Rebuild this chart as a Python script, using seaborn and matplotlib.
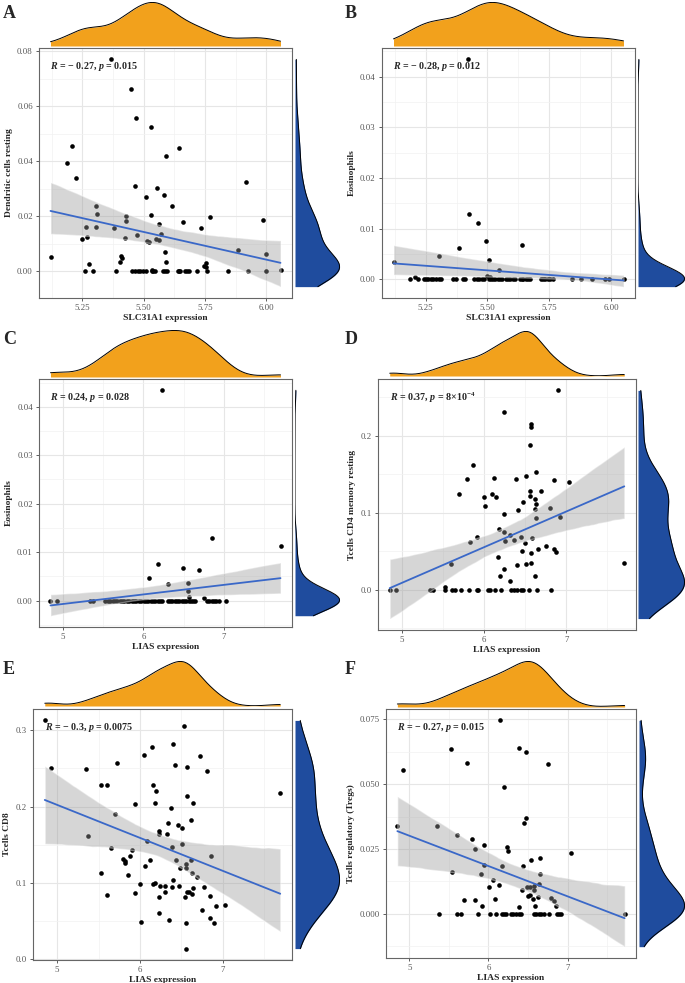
import numpy as np
import matplotlib
matplotlib.use("Agg")
import matplotlib.pyplot as plt
from matplotlib.ticker import AutoMinorLocator, MultipleLocator, FormatStrFormatter
from matplotlib.collections import PolyCollection
import seaborn as sns

# ---- data (x = gene expression, y = immune cell fraction) ----
# A: SLC31A1 vs Dendritic cells resting
a_x = [5.12, 5.366, 5.45, 5.468, 5.53, 5.646, 5.59, 5.208, 5.188, 5.222, 5.919, 5.465, 5.555,
       5.509, 5.582, 5.615, 5.307, 5.311, 5.426, 5.53, 5.772, 5.986, 5.659, 5.429, 5.561, 5.264,
       5.307, 5.381, 5.732, 5.57, 5.473, 5.269, 5.423, 5.247, 5.55, 5.562, 5.515, 5.52, 5.585,
       5.884, 5.999, 5.408, 5.412, 5.403, 5.277, 5.59, 5.753, 5.747, 5.754, 6.058, 5.534]
a_y = [0.0052, 0.077, 0.0663, 0.0558, 0.0526, 0.0447, 0.042, 0.0457, 0.0393, 0.034, 0.0326,
       0.031, 0.0304, 0.027, 0.0277, 0.0236, 0.0238, 0.021, 0.020, 0.0204, 0.0199, 0.0185, 0.018,
       0.0184, 0.0172, 0.0162, 0.016, 0.0156, 0.0156, 0.0136, 0.0131, 0.0126, 0.0121, 0.0116,
       0.0119, 0.0114, 0.0112, 0.0107, 0.0069, 0.0077, 0.0062, 0.0056, 0.0049, 0.0036, 0.0026,
       0.0033, 0.0031, 0.0019, 0.0016, 0.0007, 0.0006]
a_x0 = [5.259, 5.292, 5.388, 5.454, 5.466, 5.477, 5.486, 5.497, 5.508, 5.534, 5.539, 5.545, 5.58,
        5.588, 5.597, 5.638, 5.645, 5.65, 5.669, 5.678, 5.685, 5.719, 5.757, 5.845, 5.924, 6.0]

# B: SLC31A1 vs Eosinophils
b_x = [5.12, 5.422, 5.425, 5.462, 5.492, 5.384, 5.641, 5.304, 5.507, 5.548, 5.497, 5.512, 5.207]
b_y = [0.0034, 0.0434, 0.0128, 0.0112, 0.0076, 0.0062, 0.0068, 0.0046, 0.0038, 0.0018, 0.0007,
       0.0005, 0.0004]
b_x0 = [5.185, 5.219, 5.242, 5.251, 5.261, 5.27, 5.281, 5.292, 5.302, 5.312, 5.362, 5.374, 5.399,
        5.41, 5.446, 5.456, 5.466, 5.476, 5.485, 5.505, 5.516, 5.524, 5.532, 5.542, 5.551, 5.56,
        5.573, 5.583, 5.593, 5.602, 5.613, 5.63, 5.638, 5.645, 5.655, 5.664, 5.673, 5.715, 5.724,
        5.734, 5.743, 5.754, 5.765, 5.841, 5.88, 5.922, 5.977, 5.991, 6.05]

# C: LIAS vs Eosinophils
c_x = [6.235, 6.848, 7.7, 6.185, 6.486, 6.691, 6.074, 6.309, 6.556, 6.547, 6.56, 6.749]
c_y = [0.0434, 0.0129, 0.0112, 0.0076, 0.0068, 0.0063, 0.0046, 0.0035, 0.0037, 0.002, 0.0008, 0.0006]
c_x0 = [4.848, 4.93, 5.342, 5.374, 5.523, 5.556, 5.588, 5.617, 5.646, 5.675, 5.704, 5.733, 5.761,
        5.794, 5.827, 5.856, 5.885, 5.914, 5.942, 5.975, 6.004, 6.033, 6.062, 6.091, 6.119, 6.148,
        6.177, 6.206, 6.235, 6.3, 6.329, 6.358, 6.387, 6.416, 6.444, 6.473, 6.502, 6.531, 6.56,
        6.588, 6.617, 6.646, 6.79, 6.819, 6.848, 6.877, 6.905, 6.934, 7.029]

# D: LIAS vs T cells CD4 memory resting
d_x = [6.902, 6.236, 6.565, 6.565, 6.553, 5.862, 6.63, 6.508, 5.793, 6.122, 6.386, 6.854, 7.033,
       6.557, 6.695, 5.695, 6.093, 6.557, 6.0, 6.146, 6.614, 6.476, 6.63, 6.016, 6.805, 6.622,
       6.411, 6.236, 6.927, 6.626, 6.179, 6.236, 5.911, 6.309, 6.358, 6.443, 6.577, 5.825, 6.252,
       6.492, 6.756, 6.854, 6.87, 6.659, 6.467, 6.569, 6.167, 6.512, 6.569, 6.398, 5.602, 7.707,
       6.236, 6.622, 6.195, 6.309, 5.524]
d_y = [0.2588, 0.2307, 0.2151, 0.2116, 0.1875, 0.1621, 0.1523, 0.1474, 0.1434, 0.1448, 0.1439,
       0.1421, 0.1394, 0.1283, 0.1283, 0.1247, 0.1243, 0.1216, 0.1203, 0.1207, 0.118, 0.1145,
       0.1109, 0.1082, 0.106, 0.1042, 0.1038, 0.0984, 0.0949, 0.0931, 0.0788, 0.0753, 0.0686,
       0.0704, 0.065, 0.0682, 0.0673, 0.0624, 0.0628, 0.0601, 0.057, 0.0526, 0.0494, 0.053,
       0.0503, 0.0472, 0.0423, 0.0334, 0.0352, 0.0316, 0.033, 0.0343, 0.0272, 0.0178, 0.0174,
       0.0111, 0.004]
d_x0 = [4.85, 4.93, 5.341, 5.374, 5.524, 5.606, 5.646, 5.724, 5.821, 5.907, 5.927, 6.049, 6.069,
        6.13, 6.211, 6.333, 6.366, 6.402, 6.443, 6.476, 6.541, 6.65, 6.813]

# E: LIAS vs T cells CD8
e_x = [4.85, 6.531, 4.931, 5.352, 5.727, 6.147, 6.05, 6.402, 6.426, 6.572,
       6.725, 6.81, 5.53, 5.606, 6.162, 6.2, 7.695, 6.564, 5.941, 6.184,
       6.636, 6.37, 5.695, 6.616, 6.341, 6.463, 6.503, 6.232, 6.232, 6.329,
       5.376, 6.083, 6.503, 6.386, 5.65, 5.909, 5.885, 6.855, 5.792, 5.816,
       6.434, 6.612, 6.119, 5.82, 6.556, 6.067, 6.483, 6.556, 6.624, 5.53,
       5.857, 6.685, 6.402, 6.002, 6.152, 6.176, 6.244, 6.297, 6.39, 6.475,
       6.778, 5.941, 5.602, 6.564, 6.592, 6.624, 6.547, 6.232, 6.842, 6.305,
       6.644, 7.024, 6.919, 6.749, 6.232, 6.842, 6.354, 6.018, 6.552, 6.891, 6.552]
e_y = [0.3128, 0.3058, 0.2508, 0.2494, 0.2565, 0.2776, 0.2679, 0.2824, 0.2547, 0.2516,
       0.2662, 0.2468, 0.2288, 0.2288, 0.2283, 0.2204, 0.2182, 0.2134, 0.2028, 0.2041,
       0.205, 0.1975, 0.1909, 0.1826, 0.1782, 0.176, 0.172, 0.168, 0.1645, 0.1645,
       0.161, 0.1549, 0.1509, 0.1465, 0.1456, 0.143, 0.1359, 0.1355, 0.1311, 0.1293,
       0.1307, 0.1307, 0.1298, 0.1267, 0.1254, 0.1223, 0.1197, 0.1197, 0.1126, 0.1135,
       0.1104, 0.1082, 0.1038, 0.0985, 0.0985, 0.0994, 0.0955, 0.0959, 0.0946, 0.0955,
       0.0941, 0.0875, 0.0849, 0.088, 0.088, 0.0858, 0.0814, 0.0814, 0.0831, 0.088,
       0.0937, 0.0713, 0.07, 0.0647, 0.0603, 0.0546, 0.0515, 0.0493, 0.0471, 0.048, 0.0141]
e_x0 = []

# F: LIAS vs T cells regulatory (Tregs)
f_x = [4.848, 4.924, 5.532, 5.734, 5.35, 5.608, 5.793, 5.827, 5.945, 5.536,
       5.945, 5.911, 5.696, 5.827, 5.916, 6.008, 6.059, 6.08, 6.131, 6.152,
       6.173, 6.198, 6.236, 6.253, 6.384, 6.477, 6.477, 6.451, 6.435, 6.544,
       6.654, 6.747, 6.418, 6.392, 6.489, 6.519, 6.494, 6.519, 6.57, 6.574,
       6.591, 6.561, 6.629, 6.646, 6.641, 6.797, 6.831, 6.857, 7.046]
f_y = [0.0339, 0.0556, 0.0634, 0.0581, 0.0337, 0.0302, 0.0289, 0.0251, 0.0267, 0.0163,
       0.0188, 0.0152, 0.0052, 0.0054, 0.0032, 0.0102, 0.0132, 0.0058, 0.0112, 0.0746,
       0.0185, 0.0487, 0.0257, 0.0241, 0.064, 0.0622, 0.037, 0.0349, 0.0184, 0.0206,
       0.0215, 0.0578, 0.0093, 0.0027, 0.0103, 0.0103, 0.0069, 0.0073, 0.0108, 0.0091,
       0.003, 0.0058, 0.0066, 0.0152, 0.0114, 0.006, 0.0048, 0.003, 0.0235]
f_x0 = [5.371, 5.599, 5.654, 5.865, 6.021, 6.097, 6.173, 6.194, 6.219, 6.287, 6.316, 6.35, 6.38,
        6.414, 6.57, 6.603, 6.637, 6.667, 6.696, 6.764, 6.873, 6.895, 6.92, 7.722]

letters = ["A", "B", "C", "D", "E", "F"]
xlabels = ["SLC31A1 expression", "SLC31A1 expression", "LIAS expression",
           "LIAS expression", "LIAS expression", "LIAS expression"]
ylabels = ["Dendritic cells resting", "Eosinophils", "Eosinophils",
           "Tcells CD4 memory resting", "Tcells CD8", "Tcells regulatory (Tregs)"]
notes = [r"$R$ = − 0.27, $p$ = 0.015",
         r"$R$ = − 0.28, $p$ = 0.012",
         r"$R$ = 0.24, $p$ = 0.028",
         r"$R$ = 0.37, $p$ = 8×10$^{\mathrm{-4}}$",
         r"$R$ = − 0.3, $p$ = 0.0075",
         r"$R$ = − 0.27, $p$ = 0.015"]

# ---- style ----
sns.set_style("whitegrid")
plt.rcParams["font.family"] = ["Liberation Serif", "DejaVu Serif"]
plt.rcParams["mathtext.fontset"] = "custom"
plt.rcParams["mathtext.it"] = "Liberation Serif:italic:bold"
plt.rcParams["mathtext.rm"] = "Liberation Serif:bold"
plt.rcParams["mathtext.bf"] = "Liberation Serif:bold"

ORANGE = "#F2A11C"
BLUE = "#1F4C9E"
LINE = "#3A68C8"

W, H = 685, 983
fig = plt.figure(figsize=(W / 100, H / 100), dpi=100)


def box(l, t, r, b):
    return [l / W, 1 - b / H, (r - l) / W, (b - t) / H]


def nrd0(v):
    # R's default bandwidth, as a factor of the sd (scipy convention)
    v = np.asarray(v)
    sd = v.std(ddof=1)
    q75, q25 = np.percentile(v, [75, 25])
    lo = min(sd, (q75 - q25) / 1.34)
    if lo == 0:
        lo = sd
    return 0.9 * lo * len(v) ** -0.2 / sd


# layout in pixels: main (l, t, r, b), top density (t, b), right density (l, r), letter (x, y)
layout = [
    ((39, 48, 292, 298), (2, 46), (295, 340), (3, 14)),
    ((382, 48, 635, 298), (2, 46), (638, 685), (345, 14)),
    ((39, 379, 292, 627), (330, 377), (295, 340), (3, 339)),
    ((378, 379, 636, 630), (331, 376), (638, 685), (345, 339)),
    ((33, 709, 292, 960), (661, 706), (295, 340), (3, 669)),
    ((386, 709, 636, 958), (661, 707), (639, 685), (345, 669)),
]
xsteps = [0.25, 0.25, 1, 1, 1, 1]
xfmts = ["%.2f", "%.2f", "%d", "%d", "%d", "%d"]
ysteps = [0.02, 0.01, 0.01, 0.1, 0.1, 0.025]
yfmts = ["%.2f", "%.2f", "%.2f", "%.1f", "%.1f", "%.3f"]

series = [(a_x, a_y, a_x0), (b_x, b_y, b_x0), (c_x, c_y, c_x0),
          (d_x, d_y, d_x0), (e_x, e_y, e_x0), (f_x, f_y, f_x0)]

for i, (px, py, px0) in enumerate(series):
    x = np.array(px + px0, dtype=float)
    y = np.array(py + [0.0] * len(px0), dtype=float)
    (ml, mt, mr, mb), (tt, tb), (rl, rr), (lx, ly) = layout[i]

    ax = fig.add_axes(box(ml, mt, mr, mb))
    sns.regplot(x=x, y=y, ax=ax, seed=1,
                scatter_kws=dict(color="black", s=11, linewidths=0, alpha=1, zorder=2),
                line_kws=dict(color=LINE, lw=1.3, zorder=4))
    band_lo, band_hi = np.inf, -np.inf
    for c in ax.collections:
        if isinstance(c, PolyCollection):
            c.set_facecolor("#9A9A9A")
            c.set_alpha(0.4)
            c.set_zorder(3)
            vy = c.get_paths()[0].vertices[:, 1]
            band_lo, band_hi = min(band_lo, vy.min()), max(band_hi, vy.max())

    ax.xaxis.set_major_locator(MultipleLocator(xsteps[i]))
    ax.yaxis.set_major_locator(MultipleLocator(ysteps[i]))
    ax.xaxis.set_major_formatter(FormatStrFormatter(xfmts[i]))
    ax.yaxis.set_major_formatter(FormatStrFormatter(yfmts[i]))
    ax.xaxis.set_minor_locator(AutoMinorLocator(2))
    ax.yaxis.set_minor_locator(AutoMinorLocator(2))
    ax.grid(which="major", color="#E6E6E6", lw=0.8)
    ax.grid(which="minor", color="#F2F2F2", lw=0.5)
    ax.set_axisbelow(True)
    ax.tick_params(which="major", bottom=True, left=True, length=2.5, width=0.6,
                   color="#444444", labelsize=6.3, labelcolor="#555555", pad=2)
    ax.tick_params(which="minor", length=0)
    for s in ax.spines.values():
        s.set_color("#666666")
        s.set_linewidth(0.8)
    ax.set_xlabel(xlabels[i], fontsize=6.8, fontweight="bold", labelpad=1.5)
    ax.set_ylabel(ylabels[i], fontsize=6.8, fontweight="bold", labelpad=3)
    ax.text(0.045, 0.925, notes[i], transform=ax.transAxes, fontsize=7.2,
            fontweight="bold", va="center", ha="left", zorder=5)
    xlim = ax.get_xlim()
    ylim = ax.get_ylim()

    # top marginal: density of x over the data range
    axt = fig.add_axes(box(ml, tt, mr, tb))
    bwx = nrd0(x)
    sns.kdeplot(x=x, ax=axt, bw_method=bwx, cut=0, fill=True, color=ORANGE, alpha=1, linewidth=0)
    sns.kdeplot(x=x, ax=axt, bw_method=bwx, cut=0, color="black", linewidth=0.7)
    axt.set_xlim(xlim)
    axt.set_ylim(0, axt.lines[0].get_ydata().max() * 1.01)
    axt.axis("off")

    # right marginal: density of y over the plotted range (points + band)
    axr = fig.add_axes(box(rl, mt, rr, mb))
    bwy = nrd0(y)
    lo = min(y.min(), band_lo)
    hi = max(y.max(), band_hi)
    sns.kdeplot(y=y, ax=axr, bw_method=bwy, cut=20, clip=(lo, hi), fill=True, color=BLUE,
                alpha=1, linewidth=0)
    sns.kdeplot(y=y, ax=axr, bw_method=bwy, cut=20, clip=(lo, hi), color="black", linewidth=0.7)
    axr.set_ylim(ylim)
    axr.set_xlim(0, axr.lines[0].get_xdata().max() * 1.01)
    axr.axis("off")

    fig.text(lx / W, 1 - ly / H, letters[i], fontsize=13, fontweight="bold",
             va="center", ha="left")

fig.savefig("out.png", dpi=100)
